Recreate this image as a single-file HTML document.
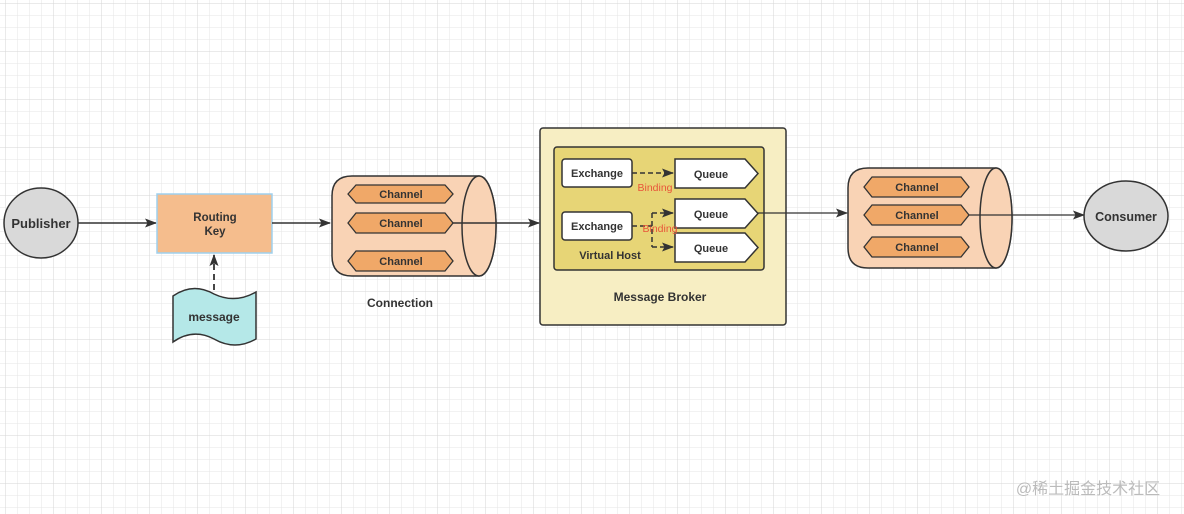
<!DOCTYPE html>
<html><head><meta charset="utf-8"><style>
html,body{margin:0;padding:0;background:#fff;}
svg{display:block;}
text{font-family:"Liberation Sans","Noto Sans CJK SC",sans-serif;font-weight:bold;fill:#333;}
</style></head><body>
<svg width="1184" height="514" viewBox="0 0 1184 514" xmlns="http://www.w3.org/2000/svg">
<defs>
<pattern id="g" x="5" y="3" width="12" height="12" patternUnits="userSpaceOnUse">
<path d="M0 0V12M0 0H12" stroke="#e6e6e6" stroke-width="1" fill="none"/>
</pattern>
<pattern id="G" x="5" y="3" width="48" height="48" patternUnits="userSpaceOnUse">
<path d="M0 0V48M0 0H48" stroke="#d6d6d6" stroke-width="1" fill="none"/>
</pattern>
<marker id="a" markerWidth="12" markerHeight="9" refX="11" refY="4.5" orient="auto" markerUnits="userSpaceOnUse">
<path d="M0 0L12 4.5L0 9L2.5 4.5Z" fill="#333"/>
</marker>
</defs>
<rect width="1184" height="514" fill="url(#g)"/>
<rect width="1184" height="514" fill="url(#G)"/>

<ellipse cx="41" cy="223" rx="37" ry="35" fill="#d9d9d9" stroke="#333" stroke-width="1.5"/>
<text x="41" y="228" font-size="13" text-anchor="middle">Publisher</text>
<line x1="78" y1="223" x2="156" y2="223" stroke="#333" stroke-width="1.5" marker-end="url(#a)"/>

<rect x="157" y="194" width="115" height="59" fill="#f5bd8d" stroke="#9fd0ee" stroke-width="1.5"/>
<text x="215" y="221" font-size="11.5" text-anchor="middle">Routing</text>
<text x="215" y="235" font-size="11.5" text-anchor="middle">Key</text>

<path d="M173 296 Q193 282 214 294 Q235 304 256 292 L256 339 Q235 351 214 339 Q193 328 173 342 Z" fill="#b5e8e8" stroke="#333" stroke-width="1.5"/>
<text x="214" y="321" font-size="12" text-anchor="middle">message</text>
<line x1="214" y1="290" x2="214" y2="255" stroke="#333" stroke-width="1.8" stroke-dasharray="6,4" marker-end="url(#a)"/>

<line x1="272" y1="223" x2="330" y2="223" stroke="#333" stroke-width="1.5" marker-end="url(#a)"/>

<path d="M352 176 L479 176 A17 50 0 0 1 479 276 L352 276 Q332 276 332 256 L332 196 Q332 176 352 176 Z" fill="#f9d3b5" stroke="#333" stroke-width="1.5"/>
<ellipse cx="479" cy="226" rx="17" ry="50" fill="#f9d3b5" stroke="#333" stroke-width="1.5"/>
<g fill="#f0a868" stroke="#333" stroke-width="1.3">
<path d="M348 194 L356 185 L445 185 L453 194 L445 203 L356 203 Z"/>
<path d="M348 223 L356 213 L445 213 L453 223 L445 233 L356 233 Z"/>
<path d="M348 261 L356 251 L445 251 L453 261 L445 271 L356 271 Z"/>
</g>
<text x="401" y="198" font-size="11" text-anchor="middle">Channel</text>
<text x="401" y="227" font-size="11" text-anchor="middle">Channel</text>
<text x="401" y="265" font-size="11" text-anchor="middle">Channel</text>
<text x="400" y="307" font-size="12" text-anchor="middle">Connection</text>
<line x1="453" y1="223" x2="539" y2="223" stroke="#333" stroke-width="1.5" marker-end="url(#a)"/>

<rect x="540" y="128" width="246" height="197" rx="3" fill="#f7eec3" stroke="#333" stroke-width="1.5"/>
<rect x="554" y="147" width="210" height="123" rx="3" fill="#e7d576" stroke="#333" stroke-width="1.5"/>
<rect x="562" y="159" width="70" height="28" rx="3" fill="#fff" stroke="#333" stroke-width="1.5"/>
<rect x="562" y="212" width="70" height="28" rx="3" fill="#fff" stroke="#333" stroke-width="1.5"/>
<text x="597" y="177" font-size="11" text-anchor="middle">Exchange</text>
<text x="597" y="230" font-size="11" text-anchor="middle">Exchange</text>
<g fill="#fff" stroke="#333" stroke-width="1.5">
<path d="M675 159 L745 159 L758 173.5 L745 188 L675 188 Z"/>
<path d="M675 199 L745 199 L758 213.5 L745 228 L675 228 Z"/>
<path d="M675 233 L745 233 L758 247.5 L745 262 L675 262 Z"/>
</g>
<text x="711" y="178" font-size="11" text-anchor="middle">Queue</text>
<text x="711" y="218" font-size="11" text-anchor="middle">Queue</text>
<text x="711" y="252" font-size="11" text-anchor="middle">Queue</text>
<g stroke="#333" stroke-width="1.5" stroke-dasharray="5,3" fill="none">
<line x1="632" y1="173" x2="673" y2="173" marker-end="url(#a)"/>
<path d="M632 226 L652 226"/>
<path d="M652 213 L652 247"/>
<line x1="652" y1="213" x2="673" y2="213" marker-end="url(#a)"/>
<line x1="652" y1="247" x2="673" y2="247" marker-end="url(#a)"/>
</g>
<text x="655" y="191" font-size="10.5" style="fill:#e8553a;font-weight:normal" text-anchor="middle">Binding</text>
<text x="660" y="232" font-size="10.5" style="fill:#e8553a;font-weight:normal" text-anchor="middle">Binding</text>
<text x="610" y="259" font-size="11" text-anchor="middle">Virtual  Host</text>
<text x="660" y="301" font-size="12" text-anchor="middle">Message Broker</text>
<line x1="758" y1="213" x2="847" y2="213" stroke="#333" stroke-width="1.2" marker-end="url(#a)"/>

<path d="M868 168 L996 168 A16 50 0 0 1 996 268 L868 268 Q848 268 848 248 L848 188 Q848 168 868 168 Z" fill="#f9d3b5" stroke="#333" stroke-width="1.5"/>
<ellipse cx="996" cy="218" rx="16" ry="50" fill="#f9d3b5" stroke="#333" stroke-width="1.5"/>
<g fill="#f0a868" stroke="#333" stroke-width="1.3">
<path d="M864 187 L872 177 L961 177 L969 187 L961 197 L872 197 Z"/>
<path d="M864 215 L872 205 L961 205 L969 215 L961 225 L872 225 Z"/>
<path d="M864 247 L872 237 L961 237 L969 247 L961 257 L872 257 Z"/>
</g>
<text x="917" y="191" font-size="11" text-anchor="middle">Channel</text>
<text x="917" y="219" font-size="11" text-anchor="middle">Channel</text>
<text x="917" y="251" font-size="11" text-anchor="middle">Channel</text>
<line x1="969" y1="215" x2="1084" y2="215" stroke="#333" stroke-width="1.2" marker-end="url(#a)"/>

<ellipse cx="1126" cy="216" rx="42" ry="35" fill="#d9d9d9" stroke="#333" stroke-width="1.5"/>
<text x="1126" y="221" font-size="12.5" text-anchor="middle">Consumer</text>

<text x="1088" y="494" font-size="16" style="fill:#bbb;font-weight:normal" text-anchor="middle">@稀土掘金技术社区</text>
</svg>
</body></html>
